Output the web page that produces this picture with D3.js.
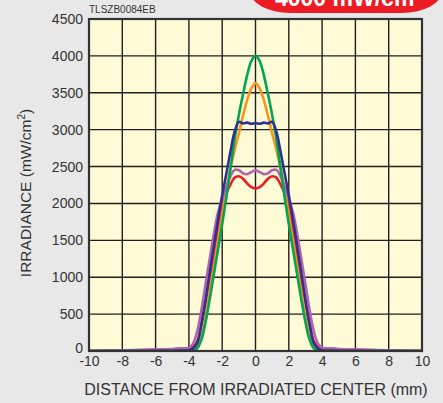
<!DOCTYPE html>
<html><head><meta charset="utf-8">
<script src="https://cdn.jsdelivr.net/npm/d3@7"></script>
<style>
html,body{margin:0;padding:0;background:#e8e8e8;}
svg{display:block;font-family:"Liberation Sans",Arial,Helvetica,sans-serif;}
</style></head><body>
<svg id="c" width="443" height="403"></svg>
<script>
// ---- data ----
const xPos = [-10,-8,-6,-5,-4.5,-4,-3.75,-3.5,-3.25,-3,-2.75,-2.5,-2.25,-2,-1.75,-1.5,-1.25,-1,-0.75,-0.5,-0.25,0,
              0.25,0.5,0.75,1,1.25,1.5,1.75,2,2.25,2.5,2.75,3,3.25,3.5,3.75,4,4.5,5,6,8,10];
const greenVals  = [0,0,0,0,0,2,8,35,150,390,700,1040,1380,1720,2080,2480,2880,3200,3480,3740,3930,4000,
                    3930,3740,3480,3200,2880,2480,2080,1720,1380,1040,700,390,150,35,8,2,0,0,0,0,0];
const orangeVals = [0,0,2,3,4,5,15,55,190,460,810,1150,1500,1850,2180,2480,2730,2950,3190,3400,3560,3627,
                    3560,3400,3190,2950,2730,2480,2180,1850,1500,1150,810,460,190,55,15,5,4,3,2,0,0];
const blueVals   = [0,0,2,4,6,10,35,110,360,690,1060,1425,1780,2110,2405,2708,2975,3105,3085,3095,3080,3090,
                    3080,3095,3085,3105,2975,2708,2405,2110,1780,1425,1060,690,360,110,35,10,6,4,2,0,0];
const redVals    = [0,5,15,22,30,38,55,130,360,660,975,1320,1650,1960,2140,2260,2350,2368,2335,2270,2220,2204,
                    2220,2270,2335,2368,2350,2260,2140,1960,1650,1320,975,660,360,130,55,38,30,22,15,5,0];
const purpleVals = [0,8,20,28,35,45,100,270,555,905,1250,1590,1880,2060,2220,2370,2455,2450,2410,2397,2425,2450,
                    2425,2397,2410,2450,2455,2370,2220,2060,1880,1590,1250,905,555,270,100,45,35,28,20,8,0];
const xTicks = [-10,-8,-6,-4,-2,0,2,4,6,8,10];
const yTicks = [0,500,1000,1500,2000,2500,3000,3500,4000,4500];
const seriesNames = ["red","orange","purple","green","blue"];
const seriesColors = {red:"#ed1c24",orange:"#f7941d",purple:"#b263ae",green:"#00a651",blue:"#2e3192"};
const seriesVals = {red:redVals,orange:orangeVals,purple:purpleVals,green:greenVals,blue:blueVals};

// ---- chart ----
const svg = d3.select("#c");
const L=89, R=422, T=19, B=351;
const x = d3.scaleLinear().domain([-10,10]).range([L,R]);
const y = d3.scaleLinear().domain([0,4500]).range([B,T]);

// badge
svg.append("rect").attr("x",250).attr("y",-40).attr("width",192).attr("height",53)
  .attr("rx",40).attr("ry",22).attr("fill","#ed1c24");
const bt = svg.append("text").attr("x",275).attr("y",6).attr("fill","#fff")
  .attr("font-weight","bold").attr("font-size",23).text("4000 mW/cm");
bt.append("tspan").attr("font-size",14).attr("dy",-9).text("2");

svg.append("text").attr("x",89).attr("y",13).attr("font-size",10).attr("fill","#333").text("TLSZB0084EB");

// plot background
svg.append("rect").attr("x",L).attr("y",T).attr("width",R-L).attr("height",B-T).attr("fill","#fffbd6");

// grid
svg.append("g").selectAll("line").data(xTicks.slice(1,-1)).join("line")
  .attr("x1",d=>x(d)).attr("x2",d=>x(d)).attr("y1",T).attr("y2",B)
  .attr("stroke","#231f20").attr("stroke-width",1.4);
svg.append("g").selectAll("line").data(yTicks.slice(1,-1)).join("line")
  .attr("y1",d=>y(d)).attr("y2",d=>y(d)).attr("x1",L).attr("x2",R)
  .attr("stroke","#231f20").attr("stroke-width",1.4);

// axes labels via d3 axes
const yAxis = svg.append("g").attr("transform",`translate(${L},0)`)
  .call(d3.axisLeft(y).tickValues(yTicks).tickSize(0).tickPadding(6).tickFormat(d3.format("d")));
const xAxis = svg.append("g").attr("transform",`translate(0,${B})`)
  .call(d3.axisBottom(x).tickValues(xTicks).tickSize(0).tickPadding(5).tickFormat(d3.format("d")));
[yAxis,xAxis].forEach(a=>{
  a.select(".domain").remove();
  a.selectAll("text").attr("font-size",14).attr("fill","#333")
    .attr("font-family","'Liberation Sans',Arial,sans-serif");
});
xAxis.selectAll("text").text(d=>d<0?"-"+Math.abs(d):d);
yAxis.selectAll("text").filter(d=>d===0).attr("dy","0.1em");

// curves
const line = d3.line().x((d,i)=>x(xPos[i])).y(d=>y(d)).curve(d3.curveCatmullRom.alpha(0.5));
svg.append("clipPath").attr("id","pc").append("rect")
  .attr("x",L).attr("y",T-5).attr("width",R-L).attr("height",B-T+5);
svg.append("g").attr("clip-path","url(#pc)").selectAll("path").data(seriesNames).join("path")
  .attr("d",n=>line(seriesVals[n])).attr("fill","none")
  .attr("stroke",n=>seriesColors[n]).attr("stroke-width",2.6).attr("stroke-linejoin","round");

// border
svg.append("rect").attr("x",L).attr("y",T).attr("width",R-L).attr("height",B-T)
  .attr("fill","none").attr("stroke","#333").attr("stroke-width",2.2);

// titles
svg.append("text").attr("x",256).attr("y",395).attr("text-anchor","middle")
  .attr("font-size",16).attr("fill","#333").text("DISTANCE FROM IRRADIATED CENTER (mm)");
const yt = svg.append("text").attr("transform","translate(31,193) rotate(-90)").attr("text-anchor","middle")
  .attr("font-size",15.5).attr("fill","#333").text("IRRADIANCE (mW/cm");
yt.append("tspan").attr("font-size",10).attr("dy",-6).text("2");
yt.append("tspan").attr("dy",6).text(")");
</script></body></html>
